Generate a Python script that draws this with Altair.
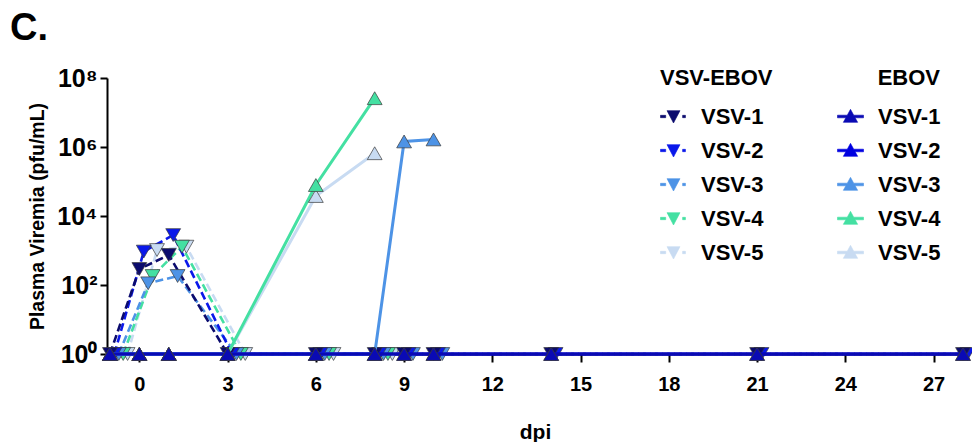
import altair as alt
import pandas as pd

# Sampling days (days post infection)
days = [-1, 0, 1, 3, 6, 8, 9, 10, 14, 21, 28]
animals = ["VSV-1", "VSV-2", "VSV-3", "VSV-4", "VSV-5"]

# VSV-EBOV plasma viremia, pfu/mL (None = no sample)
vsv_ebov_values = {
    "VSV-1": [1, 290, 740, 1, 1, 1, 1, 1, 1, 1, 1],
    "VSV-2": [1, 930, 2800, 1, 1, 1, 1, 1, 1, 1, 1],
    "VSV-3": [1, 112, 182, 1, 1, 1, 1, 1, None, None, None],
    "VSV-4": [1, 182, 1290, 1, 1, 1, None, None, None, None, None],
    "VSV-5": [1, 1030, 1290, 1, 1, 1, None, None, None, None, None],
}

# EBOV plasma viremia, pfu/mL
ebov_values = {
    "VSV-1": [1, 1, 1, 1, 1, 1, 1, 1, 1, 1, 1],
    "VSV-2": [1, 1, 1, 1, 1, 1, 1, 1, 1, 1, 1],
    "VSV-3": [1, 1, 1, 1, 1, 1, 1450000, 1660000, None, None, None],
    "VSV-4": [1, 1, 1, 1, 79000, 26000000, None, None, None, None, None],
    "VSV-5": [1, 1, 1, 1, 38000, 660000, None, None, None, None, None],
}

vsv_ebov_colors = ["#0b0b6e", "#0a18ea", "#4d93e6", "#44e0a2", "#c8dbf2"]
ebov_colors = ["#0a0ab4", "#0000e0", "#4d93e6", "#44e0a2", "#c8dbf2"]

# small sideways spread of the VSV-EBOV markers so overlapping animals stay visible (days)
vsv_ebov_nudge = [0.0, 0.15, 0.3, 0.45, 0.6]

FONT = "Liberation Sans"

# legend glyphs: short dashes with a down triangle / solid line with an up triangle
VSV_SYMBOL = ("M-1,-0.09H-0.6V0.09H-1Z "
              "M-0.5,-0.45H0.5L0,0.5Z "
              "M0.7,-0.09H0.92V0.09H0.7Z")
EBOV_SYMBOL = ("M-1,-0.1L-0.2475,-0.1L0,-0.55L0.2475,-0.1L1,-0.1L1,0.1"
               "L0.3575,0.1L0.55,0.45L-0.55,0.45L-0.3575,0.1L-1,0.1Z")


def build_frame(group, values, nudges):
    rows = []
    # last animal first so VSV-1 is drawn on top
    for i in reversed(range(len(animals))):
        name = animals[i]
        for d, v in zip(days, values[name]):
            if v is None:
                continue
            rows.append({
                "key": f"{group}|{name}",
                "dpi": d + nudges[i],
                "viremia": v,
            })
    return pd.DataFrame(rows)


vsv_df = build_frame("VSV-EBOV", vsv_ebov_values, vsv_ebov_nudge)
ebov_df = build_frame("EBOV", ebov_values, [0.0] * len(animals))

x_enc = alt.X(
    "dpi:Q",
    scale=alt.Scale(domain=[-1.1, 28], nice=False, zero=False),
    axis=alt.Axis(
        values=[0, 3, 6, 9, 12, 15, 18, 21, 24, 27],
        title="dpi",
        tickSize=8,
        labelPadding=12,
        labelFontSize=20,
        titleFontSize=21,
        titlePadding=27,
    ),
)
y_enc = alt.Y(
    "viremia:Q",
    scale=alt.Scale(type="log", domain=[1, 1e8], nice=False),
    axis=alt.Axis(
        values=[1, 1e2, 1e4, 1e6, 1e8],
        labelExpr=("datum.value == 1 ? '10⁰' : datum.value == 100 ? '10²' : "
                   "datum.value == 10000 ? '10⁴' : datum.value == 1000000 ? '10⁶' : '10⁸'"),
        title="Plasma Viremia (pfu/mL)",
        tickSize=7,
        labelPadding=3,
        labelFontSize=25,
        titleFontSize=19.5,
        titlePadding=9,
    ),
)


def legend_for(title, symbol, x, anchor):
    return alt.Legend(
        title=title,
        orient="none",
        legendX=x,
        legendY=-10,
        titleAnchor=anchor,
        titleFont=FONT,
        titleFontSize=22,
        titleFontWeight="bold",
        titleColor="black",
        titlePadding=13,
        labelExpr="split(datum.label, '|')[1]",
        labelFont=FONT,
        labelFontSize=22,
        labelFontWeight="bold",
        labelColor="black",
        labelOffset=14,
        rowPadding=9,
        padding=0,
        symbolType=symbol,
        symbolSize=676,
        symbolStrokeWidth=0.6,
        symbolOpacity=1,
    )


def group_layer(df, group, colors, symbol, legend, dash, point_shape, line_width):
    keys = [f"{group}|{a}" for a in animals]
    color = alt.Color("key:N", scale=alt.Scale(domain=keys, range=colors), legend=legend)
    base = alt.Chart(df).encode(x=x_enc, y=y_enc, color=color)
    legend_marks = base.mark_point(
        filled=True, shape=symbol, size=676, stroke="#555555", strokeWidth=0.6, opacity=1
    ).transform_filter("false")
    line_kwargs = dict(strokeWidth=line_width)
    if dash:
        line_kwargs["strokeDash"] = dash
    lines = base.mark_line(**line_kwargs)
    points = base.mark_point(
        filled=True, shape=point_shape, size=220, stroke="#3a3a3a", strokeWidth=0.7, opacity=1
    )
    return alt.layer(legend_marks, lines, points)


vsv_layer = group_layer(
    vsv_df, "VSV-EBOV", vsv_ebov_colors, VSV_SYMBOL,
    legend_for("VSV-EBOV", VSV_SYMBOL, 553, "start"),
    [8, 4], "triangle-down", 2.6,
)
ebov_layer = group_layer(
    ebov_df, "EBOV", ebov_colors, EBOV_SYMBOL,
    legend_for("EBOV", EBOV_SYMBOL, 730, "end"),
    None, "triangle-up", 3,
)

chart = (
    alt.layer(vsv_layer, ebov_layer)
    .resolve_scale(color="independent")
    .properties(
        width=856,
        height=276,
        autosize=alt.AutoSizeParams(type="none"),
        padding={"left": 107, "top": 78, "right": 9, "bottom": 88},
        title=alt.TitleParams(
            "C.", anchor="start", frame="group", dx=-97, offset=18,
            font=FONT, fontSize=38, fontWeight="bold", color="black",
        ),
    )
    .configure_view(stroke=None)
    .configure_axis(
        grid=False,
        domainColor="black",
        domainWidth=2,
        tickColor="black",
        tickWidth=2,
        labelFont=FONT,
        labelFontWeight="bold",
        labelColor="black",
        titleFont=FONT,
        titleFontWeight="bold",
        titleColor="black",
    )
)

chart.save("out.html", embed_options={"renderer": "svg", "actions": False})
